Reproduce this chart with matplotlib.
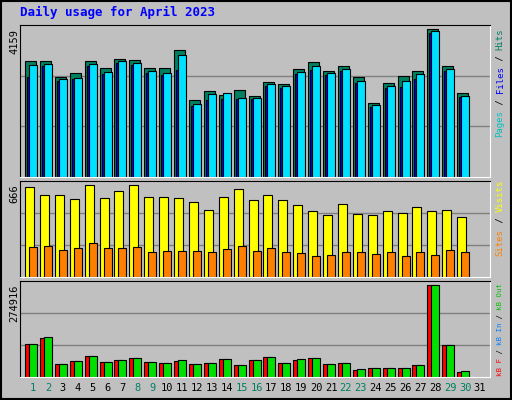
import matplotlib
matplotlib.use("Agg")
import matplotlib.pyplot as plt
import numpy as np

days = list(range(1, 32))
weekend = [1, 2, 8, 9, 15, 16, 22, 23, 29, 30]

hits = [3260, 3260, 2810, 2922, 3260, 3063, 3316, 3288, 3063, 3063, 3569, 2164, 2417, 2304, 2445,
        2276, 2670, 2613, 3035, 3232, 2979, 3119, 2810, 2079, 2641, 2838, 2979, 4159, 3119, 2360]
files = [3147, 3175, 2754, 2782, 3175, 2951, 3260, 3203, 2979, 2922, 3428, 2051, 2332, 2360, 2220,
         2220, 2613, 2557, 2951, 3119, 2922, 3035, 2698, 2023, 2557, 2698, 2894, 4103, 3035, 2276]
pages = [2810, 3120, 2700, 2740, 3120, 2900, 3200, 3150, 2930, 2880, 3000, 2000, 2150, 2200, 2180,
         2180, 2560, 2500, 2900, 3000, 2880, 2990, 2650, 1980, 2500, 2520, 2750, 4050, 2990, 2240]
visits = [649, 594, 587, 565, 666, 572, 616, 659, 579, 579, 572, 543, 486, 579, 637,
          551, 594, 551, 515, 478, 450, 529, 457, 450, 478, 464, 507, 478, 486, 435]
sites = [219, 226, 197, 212, 248, 212, 212, 219, 183, 190, 190, 190, 183, 204, 226,
         190, 212, 183, 175, 154, 161, 183, 183, 168, 183, 154, 183, 161, 197, 183]
kb_out = [99970, 120963, 39988, 48985, 63981, 45986, 51984, 57983, 45986, 42987, 51984, 39988, 42987,
          54983, 36989, 51984, 60982, 42987, 54983, 57983, 39988, 42987, 24992, 27991, 27991, 27991,
          36989, 274916, 96970, 18994]
kb_f = [99970, 117900, 39988, 48985, 63981, 45986, 51984, 57983, 45986, 42987, 48985, 39988, 42987,
        54983, 36989, 51984, 60982, 42987, 51984, 57983, 39988, 42987, 21992, 27991, 27991, 27991,
        36989, 274916, 96970, 15994]

W, H = 512, 400
fig = plt.figure(figsize=(W / 100, H / 100), dpi=100, facecolor="#C0C0C0")
fig.patches.append(plt.Rectangle((0.002, 0.002), 0.996, 0.996, transform=fig.transFigure,
                                 fill=False, edgecolor="black", lw=1.5))
mono = "DejaVu Sans Mono"
x = np.array(days[:30])
px = 14.9


def panel(top, bottom):
    ax = fig.add_axes([20 / W, 1 - bottom / H, 470 / W, (bottom - top) / H])
    ax.set_facecolor("#C0C0C0")
    ax.set_xlim(1 - 13 / px, 1 + 457 / px)
    for s in ["top", "left"]:
        ax.spines[s].set_color("black")
    for s in ["bottom", "right"]:
        ax.spines[s].set_color("white")
    ax.set_xticks([])
    ax.set_yticks([])
    return ax


def bars(ax, vals, left, width, color):
    ax.bar(x + left / px, vals, width=width / px, align="edge", color=color,
           edgecolor="black", linewidth=0.8)


def grid(ax, top):
    ax.set_ylim(0, top)
    for g in (top / 3, 2 * top / 3):
        ax.axhline(g, color="#808080", lw=1, zorder=0)


ax1 = panel(25, 177)
grid(ax1, max(hits) * 152 / 148)
bars(ax1, hits, -8, 11, "#008060")
bars(ax1, pages, -6, 9, "#0000FF")
bars(ax1, files, -4, 8, "#00E0FF")

ax2 = panel(181, 277)
grid(ax2, max(visits) * 96 / 92.5)
bars(ax2, visits, -8, 9, "#FFFF00")
bars(ax2, sites, -4, 8, "#FF8000")

ax3 = panel(281, 377)
grid(ax3, max(kb_out) * 96 / 91.7)
bars(ax3, kb_f, -8, 9, "#FF0000")
bars(ax3, kb_out, -4, 8, "#00E000")

fig.text(20 / W, 1 - 12 / H, "Daily usage for April 2023", color="#0000FF", family=mono,
         fontsize=9, fontweight="bold", va="center")
for val, top in [(max(hits), 29), (max(visits), 184), (max(kb_out), 284)]:
    fig.text(14 / W, 1 - top / H, str(val), rotation=90, family=mono, fontsize=7.5,
             ha="center", va="top")

for d in days:
    fig.text((33 + (d - 1) * px) / W, 1 - 388 / H, str(d), family=mono, fontsize=7.5,
             ha="center", va="center", color="#008060" if d in weekend else "black")


# rotated legend text, placed piece by piece with a fixed advance per character
def side(parts, bottom_px, charw, size):
    k = 0
    for i, (s, c) in enumerate(parts):
        pieces = [(s, c)] if i == len(parts) - 1 else [(s, c), (" / ", "black")]
        for txt, col in pieces:
            fig.text(500 / W, 1 - (bottom_px - k * charw) / H, txt, rotation=90, family=mono,
                     fontsize=size, color=col, ha="center", va="bottom",
                     rotation_mode="anchor" if False else "default")
            k += len(txt)


side([("Pages", "#00C0C0"), ("Files", "#0000FF"), ("Hits", "#008060")], 137, 5.45, 6.5)
side([("Sites", "#FF8000"), ("Visits", "#FFFF00")], 256, 5.5, 6.5)
side([("kB F", "#FF0000"), ("kB In", "#0080FF"), ("kB Out", "#00C000")], 376, 4.4, 5.3)

fig.savefig("out.png", dpi=100, facecolor=fig.get_facecolor())
